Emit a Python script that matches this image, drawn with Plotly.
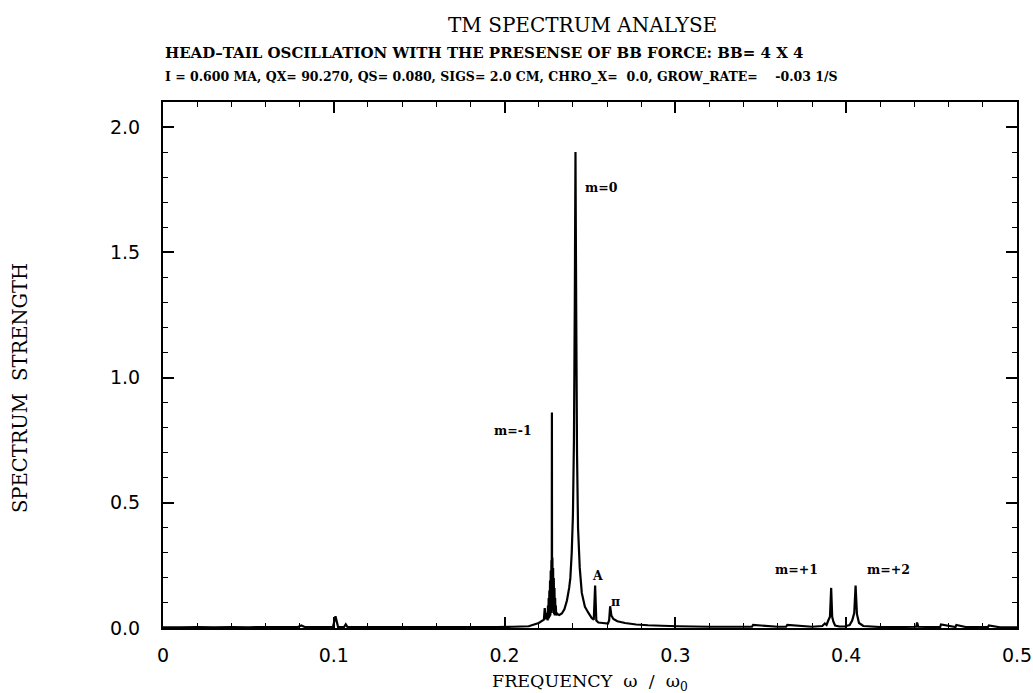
import plotly.graph_objects as go

# Transverse-mode spectrum: frequency (omega / omega_0) and spectrum strength
freq = [
    0.000, 0.010, 0.020, 0.030, 0.040, 0.050, 0.060, 0.070, 0.079, 0.081,
    0.083, 0.090, 0.0995, 0.1010, 0.1025, 0.1060, 0.1070, 0.1080, 0.120, 0.140,
    0.160, 0.180, 0.195, 0.205, 0.2141, 0.2200, 0.2230, 0.2235, 0.2240, 0.2245,
    0.2250, 0.2252, 0.2254, 0.2256, 0.2258, 0.2260, 0.2262, 0.2264, 0.2266,
    0.2268, 0.2270, 0.2272, 0.2274, 0.2276, 0.2277, 0.2278, 0.2280, 0.2282,
    0.2284, 0.2286, 0.2288, 0.2290, 0.2292, 0.2294, 0.2296, 0.2298, 0.2300,
    0.2302, 0.2305, 0.2310, 0.2320, 0.2335, 0.2350, 0.2365, 0.2378, 0.2385,
    0.2393, 0.2400, 0.2406, 0.2411, 0.2415, 0.2419, 0.2424, 0.2430, 0.2440,
    0.2452, 0.2470, 0.2491, 0.2510, 0.2522, 0.2530, 0.2537, 0.2549, 0.2575,
    0.2605, 0.2612, 0.2618, 0.2625, 0.2637, 0.2660, 0.2705, 0.2770, 0.2840,
    0.2920, 0.3015, 0.3200, 0.3448, 0.3455, 0.3600, 0.3648, 0.3655, 0.3800,
    0.3860, 0.3875, 0.3885, 0.3895, 0.3905, 0.3912, 0.3918, 0.3925, 0.3935,
    0.3960, 0.3990, 0.4020, 0.4035, 0.4047, 0.4055, 0.4063, 0.4075, 0.4100,
    0.4200, 0.4300, 0.4410, 0.4415, 0.4422, 0.4500, 0.4550, 0.4555, 0.4640,
    0.4645, 0.4700, 0.4830, 0.4835, 0.4900, 0.5000,
]
strength = [
    0.003, 0.003, 0.004, 0.003, 0.004, 0.003, 0.004, 0.004, 0.004, 0.010,
    0.004, 0.004, 0.004, 0.047, 0.004, 0.004, 0.015, 0.004, 0.004, 0.004,
    0.004, 0.004, 0.004, 0.005, 0.007, 0.020, 0.033, 0.080, 0.035, 0.045,
    0.060, 0.030, 0.090, 0.035, 0.120, 0.040, 0.150, 0.045, 0.190,
    0.050, 0.230, 0.060, 0.270, 0.080, 0.860, 0.100, 0.280, 0.070,
    0.240, 0.060, 0.200, 0.055, 0.160, 0.050, 0.120, 0.050, 0.090,
    0.050, 0.060, 0.055, 0.052, 0.058, 0.075, 0.110, 0.160, 0.200,
    0.300, 0.450, 0.750, 1.300, 1.900, 1.300, 0.700, 0.400, 0.240,
    0.140, 0.085, 0.060, 0.040, 0.033, 0.170, 0.030, 0.022, 0.020,
    0.018, 0.030, 0.087, 0.050, 0.036, 0.027, 0.020, 0.014, 0.011,
    0.009, 0.007, 0.005, 0.005, 0.012, 0.005, 0.005, 0.012, 0.005,
    0.008, 0.018, 0.012, 0.030, 0.045, 0.160, 0.045, 0.025, 0.010,
    0.006, 0.006, 0.012, 0.030, 0.060, 0.169, 0.055, 0.020, 0.008,
    0.004, 0.004, 0.005, 0.022, 0.005, 0.004, 0.004, 0.014, 0.004,
    0.012, 0.004, 0.004, 0.010, 0.003, 0.003,
]

# Mode labels placed next to their peaks
peak_labels = ["m=0", "m=-1", "A", "π", "m=+1", "m=+2"]
label_x = [0.2458, 0.2175, 0.2542, 0.2648, 0.3710, 0.4250]
label_y = [1.76, 0.79, 0.209, 0.104, 0.233, 0.233]
label_anchor = ["left", "right", "center", "center", "center", "center"]

x_ticks = [0.0, 0.1, 0.2, 0.3, 0.4, 0.5]
x_tick_text = ["0", "0.1", "0.2", "0.3", "0.4", "0.5"]
y_ticks = [0.0, 0.5, 1.0, 1.5, 2.0]
y_tick_text = ["0.0", "0.5", "1.0", "1.5", "2.0"]

title_main = "TM SPECTRUM ANALYSE"
title_line2 = "HEAD\u2013TAIL OSCILLATION WITH THE PRESENSE OF BB FORCE: BB= 4 X 4"
title_line3 = ("I = 0.600 MA, QX= 90.270, QS= 0.080, SIGS= 2.0 CM, "
               "CHRO_X=  0.0, GROW_RATE=    -0.03 1/S")

W, H = 1033, 693
L, R, T, B = 163, 16, 102, 65

fig = go.Figure()
fig.add_trace(go.Scatter(
    x=freq, y=strength, mode="lines",
    line=dict(color="black", width=2.2, simplify=False),
    hoverinfo="skip", showlegend=False,
))

serif = "DejaVu Serif"
sans = "DejaVu Sans"

for txt, xv, yv, anc in zip(peak_labels, label_x, label_y, label_anchor):
    fig.add_annotation(
        x=xv, y=yv, xref="x", yref="y", text="<b>%s</b>" % txt,
        showarrow=False, xanchor=anc, yanchor="middle",
        font=dict(family=serif, size=12.5, color="black"),
    )

ph = H - T - B


def ypaper(pix):
    return (H - B - pix) / ph


def xpaper(pix):
    return (pix - L) / (W - L - R)


fig.add_annotation(
    x=xpaper(582), y=ypaper(25), xref="paper", yref="paper",
    text=title_main, showarrow=False, xanchor="center", yanchor="middle",
    font=dict(family=serif, size=20, color="black"),
)
fig.add_annotation(
    x=0, y=ypaper(53), xref="paper", yref="paper",
    text="<b>%s</b>" % title_line2, showarrow=False,
    xanchor="left", yanchor="middle",
    font=dict(family=serif, size=15, color="black"),
)
fig.add_annotation(
    x=0, y=ypaper(77), xref="paper", yref="paper",
    text="<b>%s</b>" % title_line3, showarrow=False,
    xanchor="left", yanchor="middle",
    font=dict(family=serif, size=12.5, color="black"),
)
fig.add_annotation(
    x=xpaper(20), y=ypaper(388), xref="paper", yref="paper",
    text="SPECTRUM  STRENGTH", textangle=-90, showarrow=False,
    xanchor="center", yanchor="middle",
    font=dict(family=serif, size=19.5, color="black"),
)
fig.add_annotation(
    x=0.5, y=ypaper(682), xref="paper", yref="paper",
    text="FREQUENCY  \u03c9  /  \u03c9<sub>0</sub>", showarrow=False,
    xanchor="center", yanchor="middle",
    font=dict(family=serif, size=17.5, color="black"),
)

axis_common = dict(
    showline=True, linecolor="black", linewidth=2, mirror="ticks",
    ticks="inside", tickcolor="black", tickwidth=1.5, ticklen=11,
    showgrid=False, zeroline=False, ticklabeloverflow="allow",
    automargin=False,
    tickfont=dict(family=sans, size=19, color="black"),
)

fig.update_xaxes(
    range=[0, 0.5], tickvals=x_ticks, ticktext=x_tick_text,
    ticklabelstandoff=9,
    minor=dict(dtick=0.02, ticks="inside", ticklen=5, tickcolor="black",
               tickwidth=1.2, showgrid=False),
    **axis_common,
)
fig.update_yaxes(
    range=[0, 2.1], tickvals=y_ticks, ticktext=y_tick_text,
    ticklabelstandoff=17,
    minor=dict(dtick=0.1, ticks="inside", ticklen=5, tickcolor="black",
               tickwidth=1.2, showgrid=False),
    **axis_common,
)

fig.update_layout(
    width=W, height=H,
    margin=dict(l=L, r=R, t=T, b=B, pad=0, autoexpand=False),
    paper_bgcolor="white", plot_bgcolor="white",
    showlegend=False,
)

fig.write_html("out.html")
